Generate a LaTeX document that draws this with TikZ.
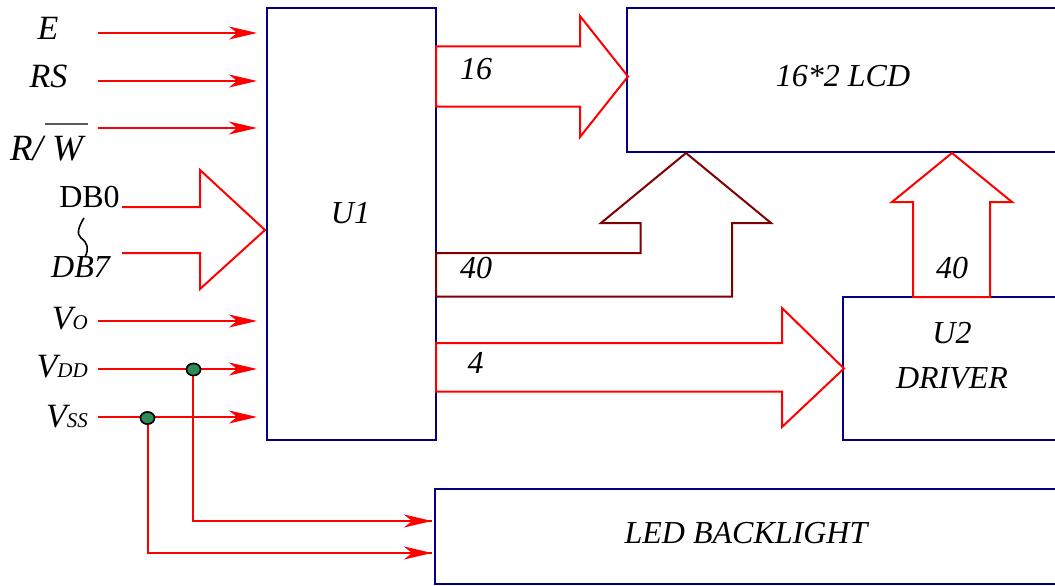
\documentclass[tikz,border=0pt]{standalone}
\usepackage{fontspec}
\setmainfont{Liberation Serif}
\usetikzlibrary{arrows.meta,shapes.geometric}
\definecolor{lred}{HTML}{FF0000}
\definecolor{bnavy}{HTML}{000080}
\definecolor{dmaroon}{HTML}{800000}
\definecolor{dgreen}{HTML}{2E8B57}
\begin{document}
\begin{tikzpicture}[x=1pt,y=-1pt,
  box/.style={draw=bnavy, line width=2pt, inner sep=0pt},
  sig/.style={draw=lred, line width=2pt, -{Stealth[length=28pt,width=13pt,inset=8pt]}},
  wire/.style={draw=lred, line width=2pt},
  fat/.style={draw=lred, line width=2pt},
  fatd/.style={draw=dmaroon, line width=2pt},
  txt/.style={font=\fontsize{32}{38}\selectfont\itshape, inner sep=0pt, anchor=base},
  ltxt/.style={font=\fontsize{34}{40}\selectfont\itshape, inner sep=0pt, anchor=base},
  dot/.style={ellipse, draw=black, line width=1.5pt, fill=dgreen, minimum width=14pt, minimum height=12pt, inner sep=0pt}]
\useasboundingbox (0,0) rectangle (1055,586);
% boxes
\node[box, minimum width=169pt, minimum height=432pt] (U1) at (351.5,224) {};
\node[box, minimum width=433pt, minimum height=144pt] (LCD) at (843.5,80) {};
\node[box, minimum width=217pt, minimum height=143pt] (U2) at (951.5,368.5) {};
\node[box, minimum width=625pt, minimum height=95pt] (LED) at (747.5,536.5) {};
% box texts
\node[txt] (tU1) at (350.5,223) {U1};
\node[txt] (tLCD) at (843,86) {16*2 LCD};
\node[txt] (tU2) at (952,343) {U2};
\node[txt] (tDRV) at (952,388) {DRIVER};
\node[txt] (tLED) at (746,543) {LED BACKLIGHT};
% left labels
\node[ltxt] (lE) at (48,40) {E};
\node[ltxt] (lRS) at (48.5,88) {RS};
\node[txt, font=\fontsize{37}{43}\selectfont\itshape] (lRW) at (46.5,160) {R/ W};
\draw[black!65, line width=1.2pt] (45,124) -- (88,124);
\node[txt, font=\fontsize{32}{38}\selectfont\upshape] (lDB0) at (89.5,207) {DB0};
\node[txt] (lDB7) at (80.5,277) {DB7};
\draw[black, line width=1.6pt] (84,218) .. controls (79,226) and (76,234) .. (81,238) .. controls (88,243) and (89,249) .. (85,257);
\node[ltxt, anchor=base east] (lVo) at (88,329) {V{\fontsize{21}{24}\selectfont O}};
\node[ltxt, anchor=base east] (lVdd) at (88,377) {V{\fontsize{21}{24}\selectfont DD}};
\node[ltxt, anchor=base east] (lVss) at (88,427) {V{\fontsize{21}{24}\selectfont SS}};
% signal arrows
\foreach \n/\y in {E/33, RS/81, RW/128, Vo/321, Vdd/369, Vss/417}{
  \coordinate (s\n) at (98,\y);
  \draw[sig, shorten >=9pt] (s\n) -- (s\n -| U1.west);
}
% junction dots and backlight wires
\node[dot] (dvdd) at (193.5,369.5) {};
\node[dot] (dvss) at (147.5,418) {};
\coordinate (l1) at (432,521);
\coordinate (l2) at (432,553);
\draw[wire] (dvdd.center) ++(-1,0) |- (l1);
\draw[sig] (l1) ++(-2,0) -- (l1);
\draw[wire] (dvss.center) |- (l2);
\draw[sig] (l2) ++(-2,0) -- (l2);
\node[dot] at (dvdd) {};
\node[dot] at (dvss) {};
% fat arrows
\draw[fat] (122,207) -- (200,207) -- (200,170) -- (265,230) -- (200,289) -- (200,253) -- (122,253);
\draw[fat] (436,46.5) -- (580,46.5) -- (580,16) -- (628,76.5) -- (580,137) -- (580,106.5) -- (436,106.5) -- cycle;
\draw[fatd] (436,253) -- (640.5,253) -- (640.5,223) -- (601,223) -- (686,153) -- (771,223) -- (732,223) -- (732,296.5) -- (436,296.5) -- cycle;
\draw[fat] (436,343) -- (782,343) -- (782,308) -- (844,368.5) -- (782,427) -- (782,391.5) -- (436,391.5) -- cycle;
\draw[fat] (913,297) -- (913,202) -- (892,202) -- (952,153) -- (1012,202) -- (990,202) -- (990,297) -- cycle;
% numbers
\node[txt] (n16) at (476,79) {16};
\node[txt] (n40a) at (476,278) {40};
\node[txt] (n40b) at (952,278) {40};
\node[txt] (n4) at (475.5,373) {4};
\end{tikzpicture}
\end{document}
